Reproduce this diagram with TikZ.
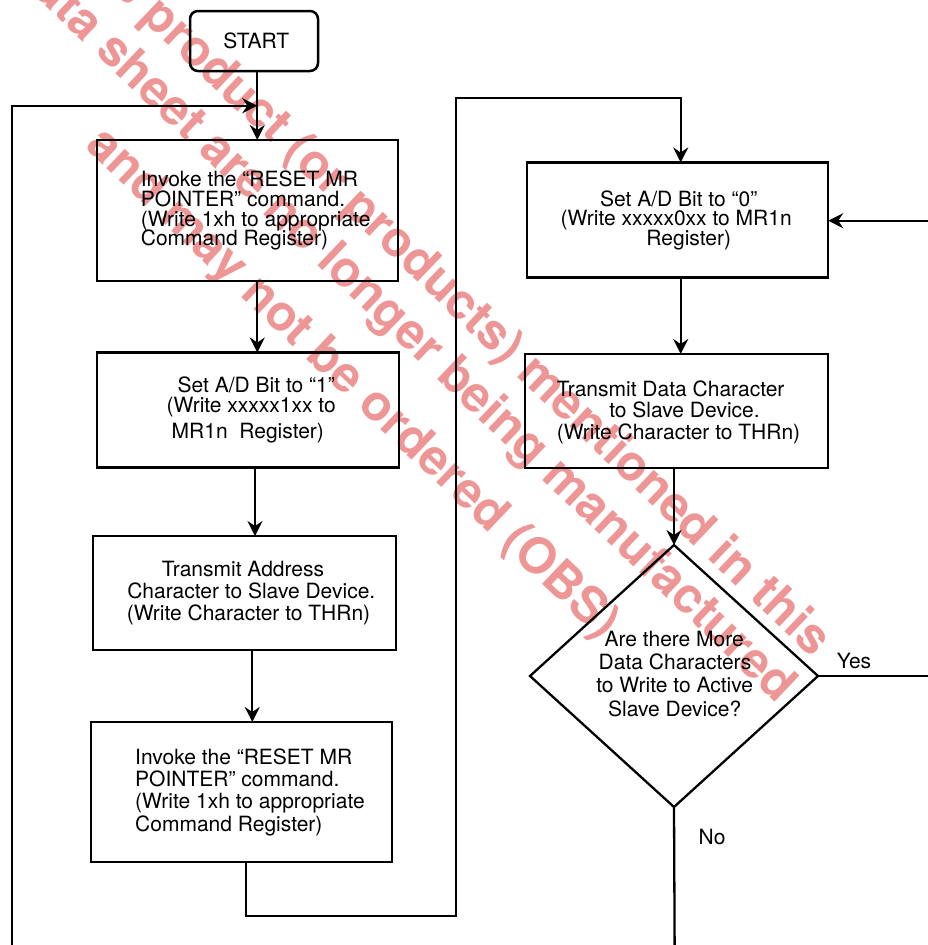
\documentclass[tikz,border=0pt]{standalone}
\usepackage{fontspec}
\setmainfont{TeX Gyre Heros}
\usetikzlibrary{shapes.geometric,arrows.meta}
\definecolor{wm}{RGB}{238,150,150}
\begin{document}
\begin{tikzpicture}[x=1pt,y=-1pt,
  box/.style={draw,line width=2.5pt,inner sep=0pt,outer sep=0pt},
  ln/.style={font=\fontsize{21}{21}\selectfont,inner sep=0pt,anchor=base},
  lnl/.style={ln,anchor=base west},
  wmk/.style={font=\bfseries\fontsize{49.5}{49.5}\selectfont,text=wm,inner sep=0pt,anchor=base,rotate=-43.6},
  arr/.style={line width=2.3pt,-{Stealth[length=15pt,width=15pt,inset=5pt]}},
  con/.style={line width=2.3pt}]
\useasboundingbox (0,0) rectangle (928,945);
\clip (0,0) rectangle (928,945);
\fill[white] (0,0) rectangle (928,945);
% watermark
\node[wmk] (wa) at (434,297.9) {This product (or products) mentioned in this};
\node[wmk] (wb) at (394,338.5) {data sheet are no longer being manufactured};
\node[wmk] (wc) at (343,394.2) {and may not be ordered (OBS)};
% boxes
\node[box,rounded corners=8pt,minimum width=128pt,minimum height=60pt] (S) at (254,41) {};
\node[box,minimum width=301pt,minimum height=141pt] (B1) at (247.5,210.5) {};
\node[box,minimum width=302pt,minimum height=115pt] (B2) at (248,410) {};
\node[box,minimum width=303pt,minimum height=114pt] (B3) at (244.5,593) {};
\node[box,minimum width=301pt,minimum height=140pt] (B4) at (241.5,792) {};
\node[box,minimum width=301pt,minimum height=115pt] (B5) at (677.7,220) {};
\node[box,minimum width=303pt,minimum height=114pt] (B6) at (676.5,411) {};
\node[draw,diamond,line width=2.3pt,inner sep=0pt,outer sep=0pt,minimum width=288pt,minimum height=262pt] (D) at (674,676) {};
% texts
\node[ln] (st) at (256.3,48.3) {START};
\node[lnl] (t1a) at (140.7,186.7) {Invoke the “RESET MR};
\node[lnl] (t1b) at (140.7,206.7) {POINTER” command.};
\node[lnl] (t1c) at (140.7,226.7) {(Write 1xh to appropriate};
\node[lnl] (t1d) at (140.7,245) {Command Register)};
\node[ln] (t2a) at (256.3,392.7) {Set A/D Bit to “1”};
\node[ln] (t2b) at (251.2,412.7) {(Write xxxxx1xx to};
\node[ln] (t2c) at (247.8,438.3) {MR1n\ \ Register)};
\node[ln] (t3a) at (243,576.7) {Transmit Address};
\node[ln] (t3b) at (251.3,598.3) {Character to Slave Device.};
\node[ln] (t3c) at (248.5,620) {(Write Character to THRn)};
\node[lnl] (t4a) at (135,764) {Invoke the “RESET MR};
\node[lnl] (t4b) at (135,786.7) {POINTER” command.};
\node[lnl] (t4c) at (135,808.3) {(Write 1xh to appropriate};
\node[lnl] (t4d) at (135,831) {Command Register)};
\node[ln] (t5a) at (678.7,206.7) {Set A/D Bit to “0”};
\node[ln] (t5b) at (676.2,225) {(Write xxxxx0xx to MR1n};
\node[ln] (t5c) at (688.7,245) {Register)};
\node[ln] (t6a) at (670.7,396) {Transmit Data Character};
\node[ln] (t6b) at (684.5,417.3) {to Slave Device.};
\node[ln] (t6c) at (678.5,439) {(Write Character to THRn)};
\node[ln] (tda) at (674.2,646) {Are there More};
\node[ln] (tdb) at (675,669.3) {Data Characters};
\node[ln] (tdc) at (674.7,692.7) {to Write to Active};
\node[ln] (tdd) at (674.7,716) {Slave Device?};
\node[ln] (yes) at (854,668.3) {Yes};
\node[ln] (no) at (712,844) {No};
% connector helpers
\coordinate (xa) at (257.3,0);
\coordinate (xb) at (255,0);
\coordinate (xc) at (252.3,0);
\coordinate (xd) at (245.7,0);
\coordinate (xe) at (680.7,0);
\coordinate (L0) at (11.7,960);
\coordinate (Lj) at (257.3,105.7);
\coordinate (R1) at (456,916);
\coordinate (R2) at (456,97.7);
\coordinate (RE) at (940,220.7);
\coordinate (YE) at (940,676);
\coordinate (NE) at (674.7,960);
% connectors
\draw[arr] (S.south -| xa) -- (B1.north -| xa);
\draw[arr] (L0) |- (Lj);
\draw[arr] (B1.south -| xa) -- (B2.north -| xa);
\draw[arr] (B2.south -| xb) -- (B3.north -| xb);
\draw[arr] (B3.south -| xc) -- (B4.north -| xc);
\draw[arr] (B4.south -| xd) -- (xd |- R1) -- (R1) -- (R2) -- (R2 -| xe) -- (B5.north -| xe);
\draw[arr] (RE) -- (B5.east |- RE);
\draw[arr] (B5.south -| xe) -- (B6.north -| xe);
\draw[arr] (B6.south -| D.north) -- (D.north);
\draw[con] (D.east) -- (YE);
\draw[con] (D.south) -- (NE);
\end{tikzpicture}
\end{document}
